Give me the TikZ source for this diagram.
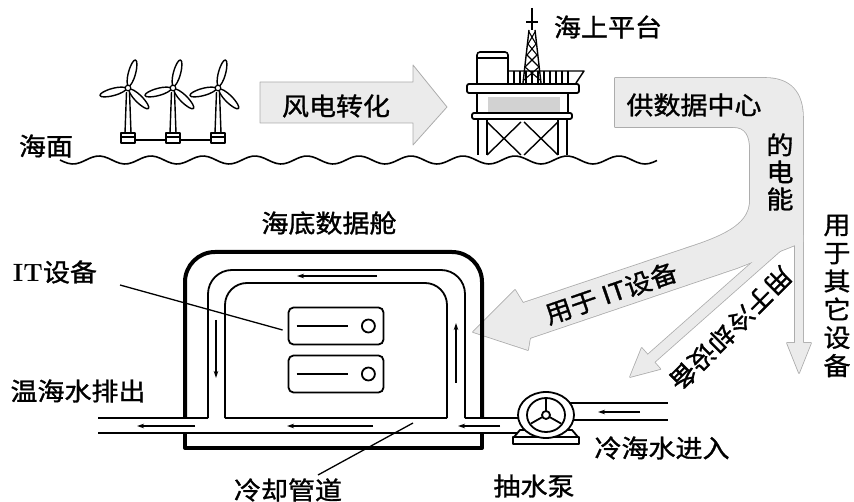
\documentclass[tikz,border=0pt]{standalone}
\usepackage{fontspec}
\usepackage{tikz}
\usetikzlibrary{arrows.meta,positioning,shapes.geometric}
\newfontfamily\cjk[FakeBold=1.2,FakeStretch=1.08]{Noto Sans CJK SC}
\tikzstyle{txt} = [font=\cjk\fontsize{25}{28}\selectfont, inner sep=0pt]
\tikzstyle{power} = [fill=gray!16]
\tikzstyle{rim} = [draw=gray!65, line width=1.6pt]
\tikzstyle{flow} = [line width=1.1pt, -{Stealth[length=7pt,width=4.5pt]}]
\tikzstyle{lead} = [line width=1.3pt]
\tikzstyle{wall} = [line width=1.8pt]
\tikzstyle{hull} = [line width=4pt]

\begin{document}
\begin{tikzpicture}[x=1pt, y=-1pt, line join=round]
    \tikzstyle{server} = [rectangle, rounded corners=5pt, draw, wall, minimum width=95pt, minimum height=37pt]
    \useasboundingbox (0,0) rectangle (854,502);

    % sea surface (period 52)
    \draw[line width=1.6pt] plot[smooth, domain=60:657, samples=150] (\x, {160 + 4*sin((\x-60)*6.9231)});

    % wind farm
    \draw[line width=1.4pt] (128,140) -- (218,140);
    \foreach \x in {128,173,218} {
        \draw[line width=1.4pt] (\x-1.5,92) -- (\x-3,133) (\x+1.5,92) -- (\x+3,133);
        \draw[line width=1.4pt, fill=white] (\x-7,133) rectangle (\x+7,143);
        \draw[line width=1.2pt] (\x-7,137) -- (\x+7,137);
        \foreach \a in {75,195,315}
            \draw[line width=1.4pt, fill=white, shift={(\x,88)}, rotate=\a] (15.5,0) ellipse (13.5 and 3.6);
        \draw[line width=1.2pt, fill=white] (\x,88) circle (2.8);
    }

    % wind -> power arrow
    \draw[power, draw=gray!65, line width=0.8pt] (260,82) -- (413,82) -- (413,65) -- (447,107) -- (413,145) -- (413,123) -- (260,123) -- cycle;

    % offshore platform
    \draw[line width=1.4pt] (508,71) -- (584,71) -- (576,83);
    \foreach \x in {514,520,...,572}
        \draw[line width=1.1pt] (\x,71) -- (\x,83);
    \draw[line width=1.6pt, fill=white, rounded corners=3] (477,83) -- (477,52) -- (508,52) -- (508,83);
    \draw[line width=1.4pt] (477,58) -- (508,58);
    \draw[line width=1.4pt] (532,8) -- (532,30) (526,22) -- (538,22);
    \draw[line width=1.4pt] (529,30) -- (523,83) (535,30) -- (541,83);
    \draw[line width=1.1pt] (529,32) -- (536,44) -- (527,55) -- (539,67) -- (524,80);
    \draw[line width=1.1pt] (535,32) -- (528,44) -- (537,55) -- (525,67) -- (540,80);
    \draw[line width=1.8pt, fill=white, rounded corners=2] (467,84) rectangle (579,93);
    \fill[gray!35] (488,97) rectangle (560,112);
    \draw[line width=1.6pt] (477,93) -- (477,113) (568,93) -- (568,113);
    \draw[line width=1.8pt, fill=white, rounded corners=2] (472,113) rectangle (572,119);
    \draw[line width=1.6pt] (478,119) -- (478,155) (487,119) -- (487,155) (558,119) -- (558,155) (567,119) -- (567,155);
    \draw[line width=1.4pt] (487,122) -- (521,155) (521,122) -- (487,155) (524,122) -- (558,155) (558,122) -- (524,155);

    % electricity supply, one outline round the three branches
    \foreach \st in {rim,power} {
        \path[\st] (615,78) -- (765,78) .. controls (790,78) and (803,92) .. (803,118) -- (803,242) -- (737,268)
            -- (530,338) -- (528,350) -- (473,332) -- (515,290) -- (523,303) -- (690,247)
            .. controls (730,234) and (750,222) .. (750,200) -- (750,150) .. controls (750,136) and (746,127) .. (733,127)
            -- (615,127) -- cycle;
        \path[\st] (781.7,236.3) -- (647.7,354.8) -- (641.7,348) -- (630,377) -- (660.3,369) -- (654.3,362.2) -- (788.3,243.7) -- cycle;
        \path[\st] (795,235) -- (795,343) -- (787,343) -- (799,373) -- (811,343) -- (803,343) -- (803,235) -- cycle;
    }

    % undersea capsule
    \draw[wall] (98,418) -- (208,418);
    \draw[wall, rounded corners=24] (208,418) -- (208,270) -- (465,270) -- (465,418);
    \draw[wall] (465,418) -- (546,418);
    \draw[wall] (98,433) -- (546,433);
    \draw[wall] (546,403) -- (668,403) (546,420) -- (668,420);
    \draw[wall, rounded corners=22] (225,418) -- (225,283) -- (447,283) -- (447,418);
    \draw[wall] (225,418) -- (447,418);
    \draw[hull, rounded corners=30] (185,418) -- (185,252) -- (482,252) -- (482,418);
    \draw[hull] (185,433) -- (185,448) -- (482,448) -- (482,433);

    % servers
    \foreach \n/\y in {srvA/326, srvB/374} {
        \node (\n) [server] at (336,\y) {};
        \draw[wall] ([xshift=9pt]\n.west) -- ++(51,0);
        \draw[wall] ([xshift=-16pt]\n.east) circle (6.5);
    }

    % pump
    \draw[wall, fill=white] (520,430) -- (514,437) -- (578,437) -- (572,430) -- cycle;
    \draw[wall, fill=white] (513,437) rectangle (579,444);
    \node (pump) [ellipse, draw, wall, fill=white, minimum width=56pt, minimum height=46pt, inner sep=0pt] at (546,415) {};
    \draw[wall] (pump.center) ellipse (19 and 17);
    \draw[wall] (pump.center) -- ++(0,-17) (pump.center) -- ++(-15,8.5) (pump.center) -- ++(15,8.5);
    \draw[wall, fill=white] (pump.center) circle (4);

    % water flow
    \draw[flow] (377,276) -- (297,276);
    \draw[flow] (216,320) -- (216,378);
    \draw[flow] (456,383) -- (456,323);
    \draw[flow] (373,426) -- (287,426);
    \draw[flow] (195,426) -- (137,426);
    \draw[flow] (500,426) -- (458,426);
    \draw[flow] (640,412) -- (598,412);

    % Nodes
    \node (sea) [txt] at (46,146) {海面};
    \node (windtxt) [txt] at (336,106) {风电转化};
    \node (rig) [txt] at (608,27) {海上平台};
    \node (supply) [txt] at (694,105) {供数据中心};
    \node (elec) [txt, align=center, font=\cjk\fontsize{25}{27}\selectfont] at (780,172) {的\\电\\能};
    \node (itpower) [txt, rotate=19] at (611,293) {用于 IT设备};
    \node (coolpower) [txt, rotate=-135] at (731,329) {用于冷却设备};
    \node (otherpower) [txt, align=center, font=\cjk\fontsize{25}{28.2}\selectfont] at (837,296) {用\\于\\其\\它\\设\\备};
    \node (capsule) [txt] at (329,223) {海底数据舱};
    \node (itlbl) [txt] at (55,272) {{\rmfamily\bfseries IT}设备};
    \node (warm) [txt] at (78,391) {温海水排出};
    \node (coolpipe) [txt] at (288,490) {冷却管道};
    \node (cold) [txt] at (662,448) {冷海水进入};
    \node (pumplbl) [txt] at (534,486) {抽水泵};

    % leaders
    \coordinate (itfoot) at (120,285);
    \coordinate (pipefoot) at (318,475);
    \coordinate (pipetip) at (413,423);
    \draw[lead] (itfoot) -- ([xshift=-5pt,yshift=-4pt]srvA.west);
    \draw[lead] (pipefoot) -- (pipetip);
\end{tikzpicture}
\end{document}
